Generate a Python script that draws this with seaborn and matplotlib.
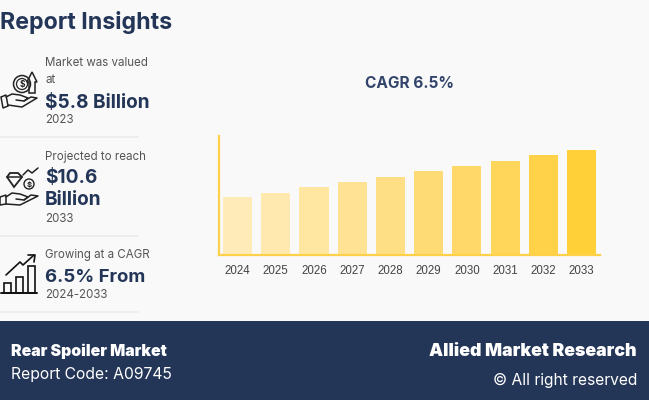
import matplotlib
matplotlib.use("Agg")
import matplotlib.pyplot as plt
from matplotlib.patches import Rectangle, Circle, Polygon
import seaborn as sns

years = ["2024", "2025", "2026", "2027", "2028", "2029", "2030", "2031", "2032", "2033"]
values = [5.8, 6.3, 6.9, 7.4, 7.9, 8.5, 9.0, 9.5, 10.1, 10.6]
bar_colors = ["#FFEBB8", "#FFE9AE", "#FFE6A1", "#FFE293", "#FFDF85",
              "#FFDB76", "#FFD869", "#FFD65A", "#FFD24A", "#FFD038"]

BG = "#F9F9FA"
NAVY = "#243657"
GREY = "#555555"
FONT = "Inter"

sns.set_theme(style="white")
plt.rcParams["font.family"] = [FONT, "DejaVu Sans"]

fig = plt.figure(figsize=(6.49, 4.0), dpi=100, facecolor=BG)

# chart area, placed in pixels of the 649x400 canvas
ax = fig.add_axes([219 / 649, 1 - 255 / 400, 381 / 649, 119 / 400], facecolor="none")
sns.barplot(x=years, y=values, hue=years, palette=bar_colors, legend=False,
            width=0.76, saturation=1, linewidth=0, ax=ax)
ax.set_xlim(-0.484, 9.48)
ax.set_ylim(0, 12.0)
ax.set_xlabel("")
ax.set_ylabel("")
ax.set_yticks([])
sns.despine(ax=ax)
for side in ["left", "bottom"]:
    ax.spines[side].set_color("#FFD04A")
    ax.spines[side].set_linewidth(1.6)
ax.tick_params(axis="x", length=0, pad=7, labelsize=8.3, labelcolor="#444444")
for t in ax.get_xticklabels():
    t.set_fontfamily("Liberation Sans")

# overlay for the panel text, footer and icons (y runs downward in pixels)
ov = fig.add_axes([0, 0, 1, 1], facecolor="none")
ov.set_xlim(0, 649)
ov.set_ylim(400, 0)
ov.axis("off")

ov.text(0, 23, "Report Insights", fontsize=16.7, fontweight="bold", color=NAVY, va="center")
ov.text(409.5, 83, "CAGR 6.5%", fontsize=11.1, fontweight="bold", color="#33446A",
        ha="center", va="center")

ov.text(45, 63, "Market was valued", fontsize=8.3, color=GREY, va="center")
ov.text(45, 80, "at", fontsize=8.3, color=GREY, va="center")
ov.text(45, 103, "$5.8 Billion", fontsize=13.7, fontweight="bold", color=NAVY, va="center")
ov.text(45, 120, "2023", fontsize=8.3, color=GREY, va="center")

ov.text(45, 157, "Projected to reach", fontsize=8.3, color=GREY, va="center")
ov.text(45, 178, "$10.6", fontsize=13.7, fontweight="bold", color=NAVY, va="center")
ov.text(45, 200, "Billion", fontsize=13.7, fontweight="bold", color=NAVY, va="center")
ov.text(45, 219, "2033", fontsize=8.3, color=GREY, va="center")

ov.text(45, 255, "Growing at a CAGR", fontsize=8.3, color=GREY, va="center")
ov.text(45, 277, "6.5% From", fontsize=13.4, fontweight="bold", color=NAVY, va="center")
ov.text(45, 295, "2024-2033", fontsize=8.3, color=GREY, va="center")

for y in [137, 236, 312]:
    ov.plot([0, 138], [y, y], color="#EBEBEB", lw=1.2)

# footer
ov.add_patch(Rectangle((0, 321), 649, 79, color=NAVY, lw=0))
ov.text(11, 351, "Rear Spoiler Market", fontsize=11.4, fontweight="black", color="white", va="center")
ov.text(11, 374, "Report Code: A09745", fontsize=11.3, color="white", va="center")
ov.text(637, 351, "Allied Market Research", fontsize=12.8, fontweight="black", color="white",
        ha="right", va="center")
ov.text(637, 380, "© All right reserved", fontsize=11.2, color="white", ha="right", va="center")

# icon 1: coin and arrow above a hand
ik = dict(color="#222222", lw=1.1, solid_capstyle="round")
ov.add_patch(Circle((22, 84), 8.5, fill=False, ec="#222222", lw=1.1))
ov.add_patch(Circle((22, 84), 5.5, fill=False, ec="#222222", lw=0.9))
ov.text(22, 84, "$", fontsize=6, color="#222222", ha="center", va="center", fontweight="bold")
ov.add_patch(Polygon([(29, 93), (29, 82), (27, 82), (32, 72), (37, 82), (35, 82), (35, 93)],
                     fill=False, ec="#222222", lw=1.1))
ov.add_patch(Polygon([(1, 97), (6, 95), (8, 106), (3, 108)], fill=False, ec="#222222", lw=1.1))
ov.plot([6, 12, 20, 28, 24, 16], [97, 94, 95, 98, 101, 100], **ik)
ov.plot([8, 22, 37, 31, 24], [105, 107, 98, 97, 101], **ik)

# icon 2: diamond, coin and zigzag above a hand
ov.add_patch(Polygon([(7, 177), (10, 173), (18, 173), (22, 177), (14, 187)],
                     fill=False, ec="#222222", lw=1.3))
ov.plot([7, 22], [177, 177], **ik)
ov.add_patch(Circle((29, 184), 5, fill=False, ec="#222222", lw=1))
ov.text(29, 184, "$", fontsize=5.5, color="#222222", ha="center", va="center", fontweight="bold")
ov.plot([23, 28, 32, 38], [175, 170, 173, 168], **ik)
ov.add_patch(Polygon([(0, 197), (6, 195), (6, 204), (0, 205)], fill=False, ec="#222222", lw=1.1))
ov.plot([6, 12, 20, 28, 24, 16], [197, 193, 194, 197, 200, 199], **ik)
ov.plot([6, 20, 38, 31, 24], [204, 205, 196, 195, 200], **ik)

# icon 3: rising bars with arrow
ov.plot([1, 37], [292.5, 292.5], color="#111111", lw=1.4)
for x, top in [(4, 283), (16, 277), (28, 266)]:
    ov.add_patch(Rectangle((x, top), 6.5, 292.5 - top, fill=False, ec="#111111", lw=1.2))
ov.plot([6, 20, 23, 34], [275, 262, 265, 255], color="#111111", lw=1.2)
ov.plot([28, 35, 34], [255, 255, 262], color="#111111", lw=1.2)

fig.savefig("out.png", dpi=100, facecolor=BG)
